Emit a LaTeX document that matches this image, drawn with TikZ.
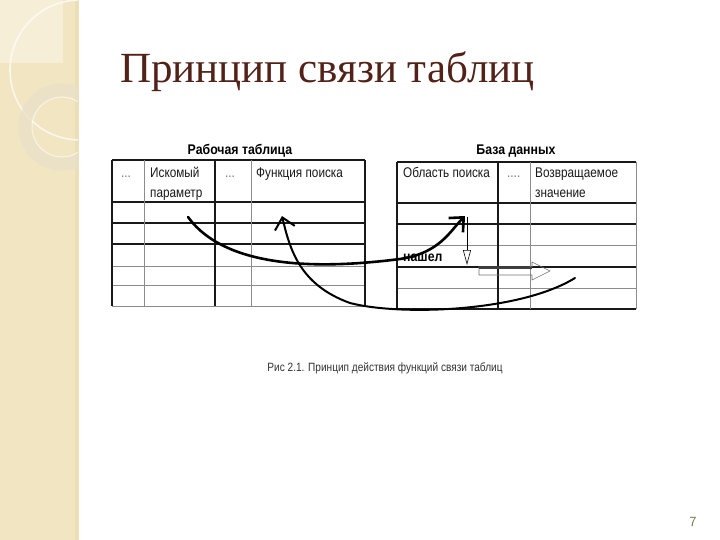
\documentclass[tikz,border=0pt]{standalone}
\usepackage{fontspec}
\setmainfont{Liberation Serif}
\newfontfamily\tabfont{Liberation Sans}[FakeStretch=0.84]
\newfontfamily\headfont{Liberation Sans}[FakeStretch=0.88]
\usetikzlibrary{arrows.meta}

\definecolor{sidebar}{RGB}{241,229,194}
\definecolor{sidelight}{RGB}{246,238,214}
\definecolor{sideedge}{RGB}{236,222,182}
\definecolor{ringcol}{RGB}{232,224,202}
\definecolor{titlebrown}{RGB}{82,34,24}
\definecolor{pagenum}{RGB}{105,118,70}

\begin{document}
\begin{tikzpicture}
                [
                x=1pt,y=-1pt,
                thickrule/.style={line width=1.2pt,black!90},
                thinrule/.style={line width=0.6pt,black!45},
                cell/.style={font=\tabfont\fontsize{14}{16}\selectfont,inner sep=0pt,anchor=base west,text=black!90},
                heading/.style={font=\headfont\bfseries\fontsize{14}{16}\selectfont,inner sep=0pt,anchor=base},
                link/.style={line width=2.6pt,line cap=round,-{Straight Barb[angle=85:15pt]}}
                ]
            \fill[white] (0,0) rectangle (720,540);
            \useasboundingbox (0,0) rectangle (720,540);
            % side band
            \fill[sidebar] (0,0) rectangle (78,540);
            \fill[sidelight] (0,0) rectangle (63,63);
            \fill[sideedge] (75,0) rectangle (79,540);
            \begin{scope}
            \clip (0,0) rectangle (78,540);
            \draw[white,line width=1.6pt,opacity=0.7] (80,70) circle (70);
            \draw[ringcol,line width=13pt,opacity=0.7] (62,127) circle (37);
            \draw[white,line width=1pt,opacity=0.6] (62,127) circle (30);
            \end{scope}
            % title
            \node[font=\fontsize{43}{50}\selectfont,text=titlebrown,anchor=west,inner sep=0pt] (title) at (120,72) {Принцип связи таблиц};
            % work table
            \node[heading] (workHead) at (240,155) {Рабочая таблица};
            \foreach \y in {160,202,223,244}
                \draw[thickrule] (112,\y) -- (365,\y);
            \foreach \y in {266,285,306}
                \draw[thinrule] (112,\y) -- (365,\y);
            \foreach \x in {112,215,365}
                \draw[thickrule] (\x,160) -- (\x,306);
            \foreach \x in {144,251}
                \draw[thinrule] (\x,160) -- (\x,306);
            \node[cell,text=black!55] (workDots1) at (121,178) {...};
            \node[cell] (param) at (150,178) {Искомый};
            \node[cell] (paramLow) at (150,198) {параметр};
            \node[cell,text=black!55] (workDots2) at (225,178) {...};
            \node[cell] (func) at (256,178) {Функция поиска};
            % data base
            \node[heading] (baseHead) at (516,155) {База данных};
            \foreach \y in {162,203,224,267,309}
                \draw[thickrule] (397,\y) -- (636,\y);
            \foreach \y in {245,288}
                \draw[thinrule] (397,\y) -- (636,\y);
            \foreach \x in {397,498}
                \draw[thickrule] (\x,162) -- (\x,309);
            \foreach \x in {530,636}
                \draw[thinrule] (\x,162) -- (\x,309);
            \node[cell] (area) at (403,178) {Область поиска};
            \node[cell,text=black!55] (baseDots) at (507,178) {....};
            \node[cell] (result) at (535,178) {Возвращаемое};
            \node[cell] (resultLow) at (535,198) {значение};
            % links
            \coordinate (paramCell) at (188,217);
            \coordinate (foundCell) at (465,216);
            \coordinate (hitTop) at (467,217);
            \coordinate (hitBottom) at (467,265);
            \coordinate (valueCell) at (575,278);
            \coordinate (funcCell) at (282,216);
            \draw[link] (paramCell) .. controls (228,272) and (330,268) .. (400,259)
                .. controls (440,253) and (450,231) .. (foundCell);
            \draw[link,line width=2pt] (valueCell) .. controls (520,312) and (400,316) .. (350,303)
                .. controls (300,285) and (290,250) .. (funcCell);
            \draw[line width=0.6pt,-{Triangle[open,length=15pt,width=8pt]}] (hitTop) -- (hitBottom);
            \node[font=\headfont\bfseries\fontsize{14}{16}\selectfont,anchor=west,inner sep=0pt] (found) at (403,258) {нашел};
            % returned value
            \draw[line width=0.6pt,black!55] (479,267) -- (532,267) -- (532,262) -- (550,271)
                -- (532,280) -- (532,275) -- (479,275) -- cycle;
            \draw[line width=2.4pt,black!75] (479,268) -- (532,268);
            % caption and page
            \node[font=\tabfont\fontsize{12}{14}\selectfont,text=black!80] (caption) at (385,368) {Рис 2.1. Принцип действия функций связи таблиц};
            \node[font=\sffamily\fontsize{14}{16}\selectfont,text=pagenum] (page) at (693,522) {7};
            \end{tikzpicture}
\end{document}
